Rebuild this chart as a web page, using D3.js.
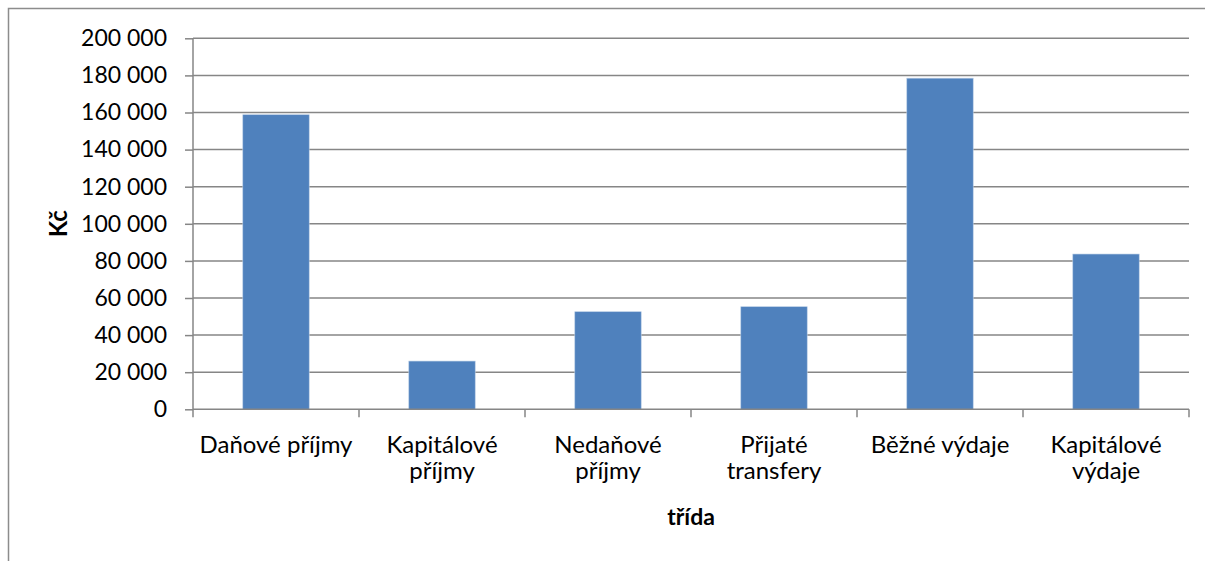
<!DOCTYPE html>
<html><head><meta charset="utf-8">
<script src="https://cdn.jsdelivr.net/npm/d3@7"></script>
<style>body{margin:0;background:#fff;} text{font-family:Lato, "Open Sans", sans-serif;}</style>
</head><body>
<svg id="c" width="1205" height="561"></svg>
<script>
const categories = [["Daňové příjmy"],["Kapitálové","příjmy"],["Nedaňové","příjmy"],["Přijaté","transfery"],["Běžné výdaje"],["Kapitálové","výdaje"]];
const values = [158800, 26000, 52600, 55300, 178500, 83700];
const yTicks = [0,20000,40000,60000,80000,100000,120000,140000,160000,180000,200000];
const yTitle = "Kč";
const xTitle = "třída";

(function(){
const svg = d3.select("#c");
const pLeft=193, pRight=1189, pTop=38.3, pBottom=409.3;
svg.append("path").attr("d","M8.5,561 V8.5 H1205").attr("fill","none").attr("stroke","#8c8c8c").attr("stroke-width",1.5);

const keys = categories.map((c,i)=>i);
const x = d3.scaleBand().domain(keys).range([pLeft,pRight]).paddingInner(0.6).paddingOuter(0.3);
const y = d3.scaleLinear().domain([0,200000]).range([pBottom,pTop]);
const fmt = v => d3.format(",")(v).replace(/,/g," ");

svg.append("g").selectAll("line").data(yTicks.filter(t=>t>0)).join("line")
  .attr("x1",pLeft).attr("x2",pRight).attr("y1",d=>y(d)).attr("y2",d=>y(d))
  .attr("stroke","#868686").attr("stroke-width",1.5);

svg.append("g").selectAll("rect").data(values).join("rect")
  .attr("x",(d,i)=>x(i)).attr("width",x.bandwidth())
  .attr("y",d=>y(d)).attr("height",d=>y(0)-y(d))
  .attr("fill","#4F81BD").attr("stroke","#B9CDE5").attr("stroke-width",0.6);

const ya = svg.append("g").attr("transform",`translate(${pLeft},0)`)
  .call(d3.axisLeft(y).tickValues(yTicks).tickFormat(fmt).tickSize(8).tickPadding(18));
ya.select(".domain").attr("stroke","#868686").attr("stroke-width",1.5).attr("d",`M0,${pTop}V${pBottom}`);
ya.selectAll(".tick line").attr("stroke","#868686").attr("stroke-width",1.5);
ya.selectAll(".tick text").attr("font-size",23).attr("fill","#000").style("font-family","Lato, sans-serif");

const xb = d3.scaleLinear().domain([0,categories.length]).range([pLeft,pRight]);
const xa = svg.append("g").attr("transform",`translate(0,${pBottom})`);
xa.append("line").attr("x1",pLeft).attr("x2",pRight).attr("stroke","#868686").attr("stroke-width",1.5);
xa.selectAll(".t").data(d3.range(categories.length+1)).join("line").attr("class","t")
  .attr("x1",d=>xb(d)).attr("x2",d=>xb(d)).attr("y1",0).attr("y2",8)
  .attr("stroke","#868686").attr("stroke-width",1.5);
const lab = xa.selectAll(".lab").data(categories).join("text").attr("class","lab")
  .attr("x",(d,i)=>x(i)+x.bandwidth()/2).attr("y",43.5).attr("text-anchor","middle")
  .attr("font-size",24).attr("fill","#000");
lab.selectAll("tspan").data(d=>d).join("tspan")
  .attr("x",function(){return this.parentNode.getAttribute("x");})
  .attr("dy",(d,i)=>i===0?0:26.5).text(d=>d);

svg.append("text").attr("x",(pLeft+pRight)/2).attr("y",525).attr("text-anchor","middle")
  .attr("font-size",23).attr("font-weight","bold").text(xTitle);
svg.append("text").attr("transform",`translate(67,${(pTop+pBottom)/2}) rotate(-90)`).attr("text-anchor","middle")
  .attr("font-size",24).attr("font-weight","bold").text(yTitle);
})();
</script>
</body></html>
